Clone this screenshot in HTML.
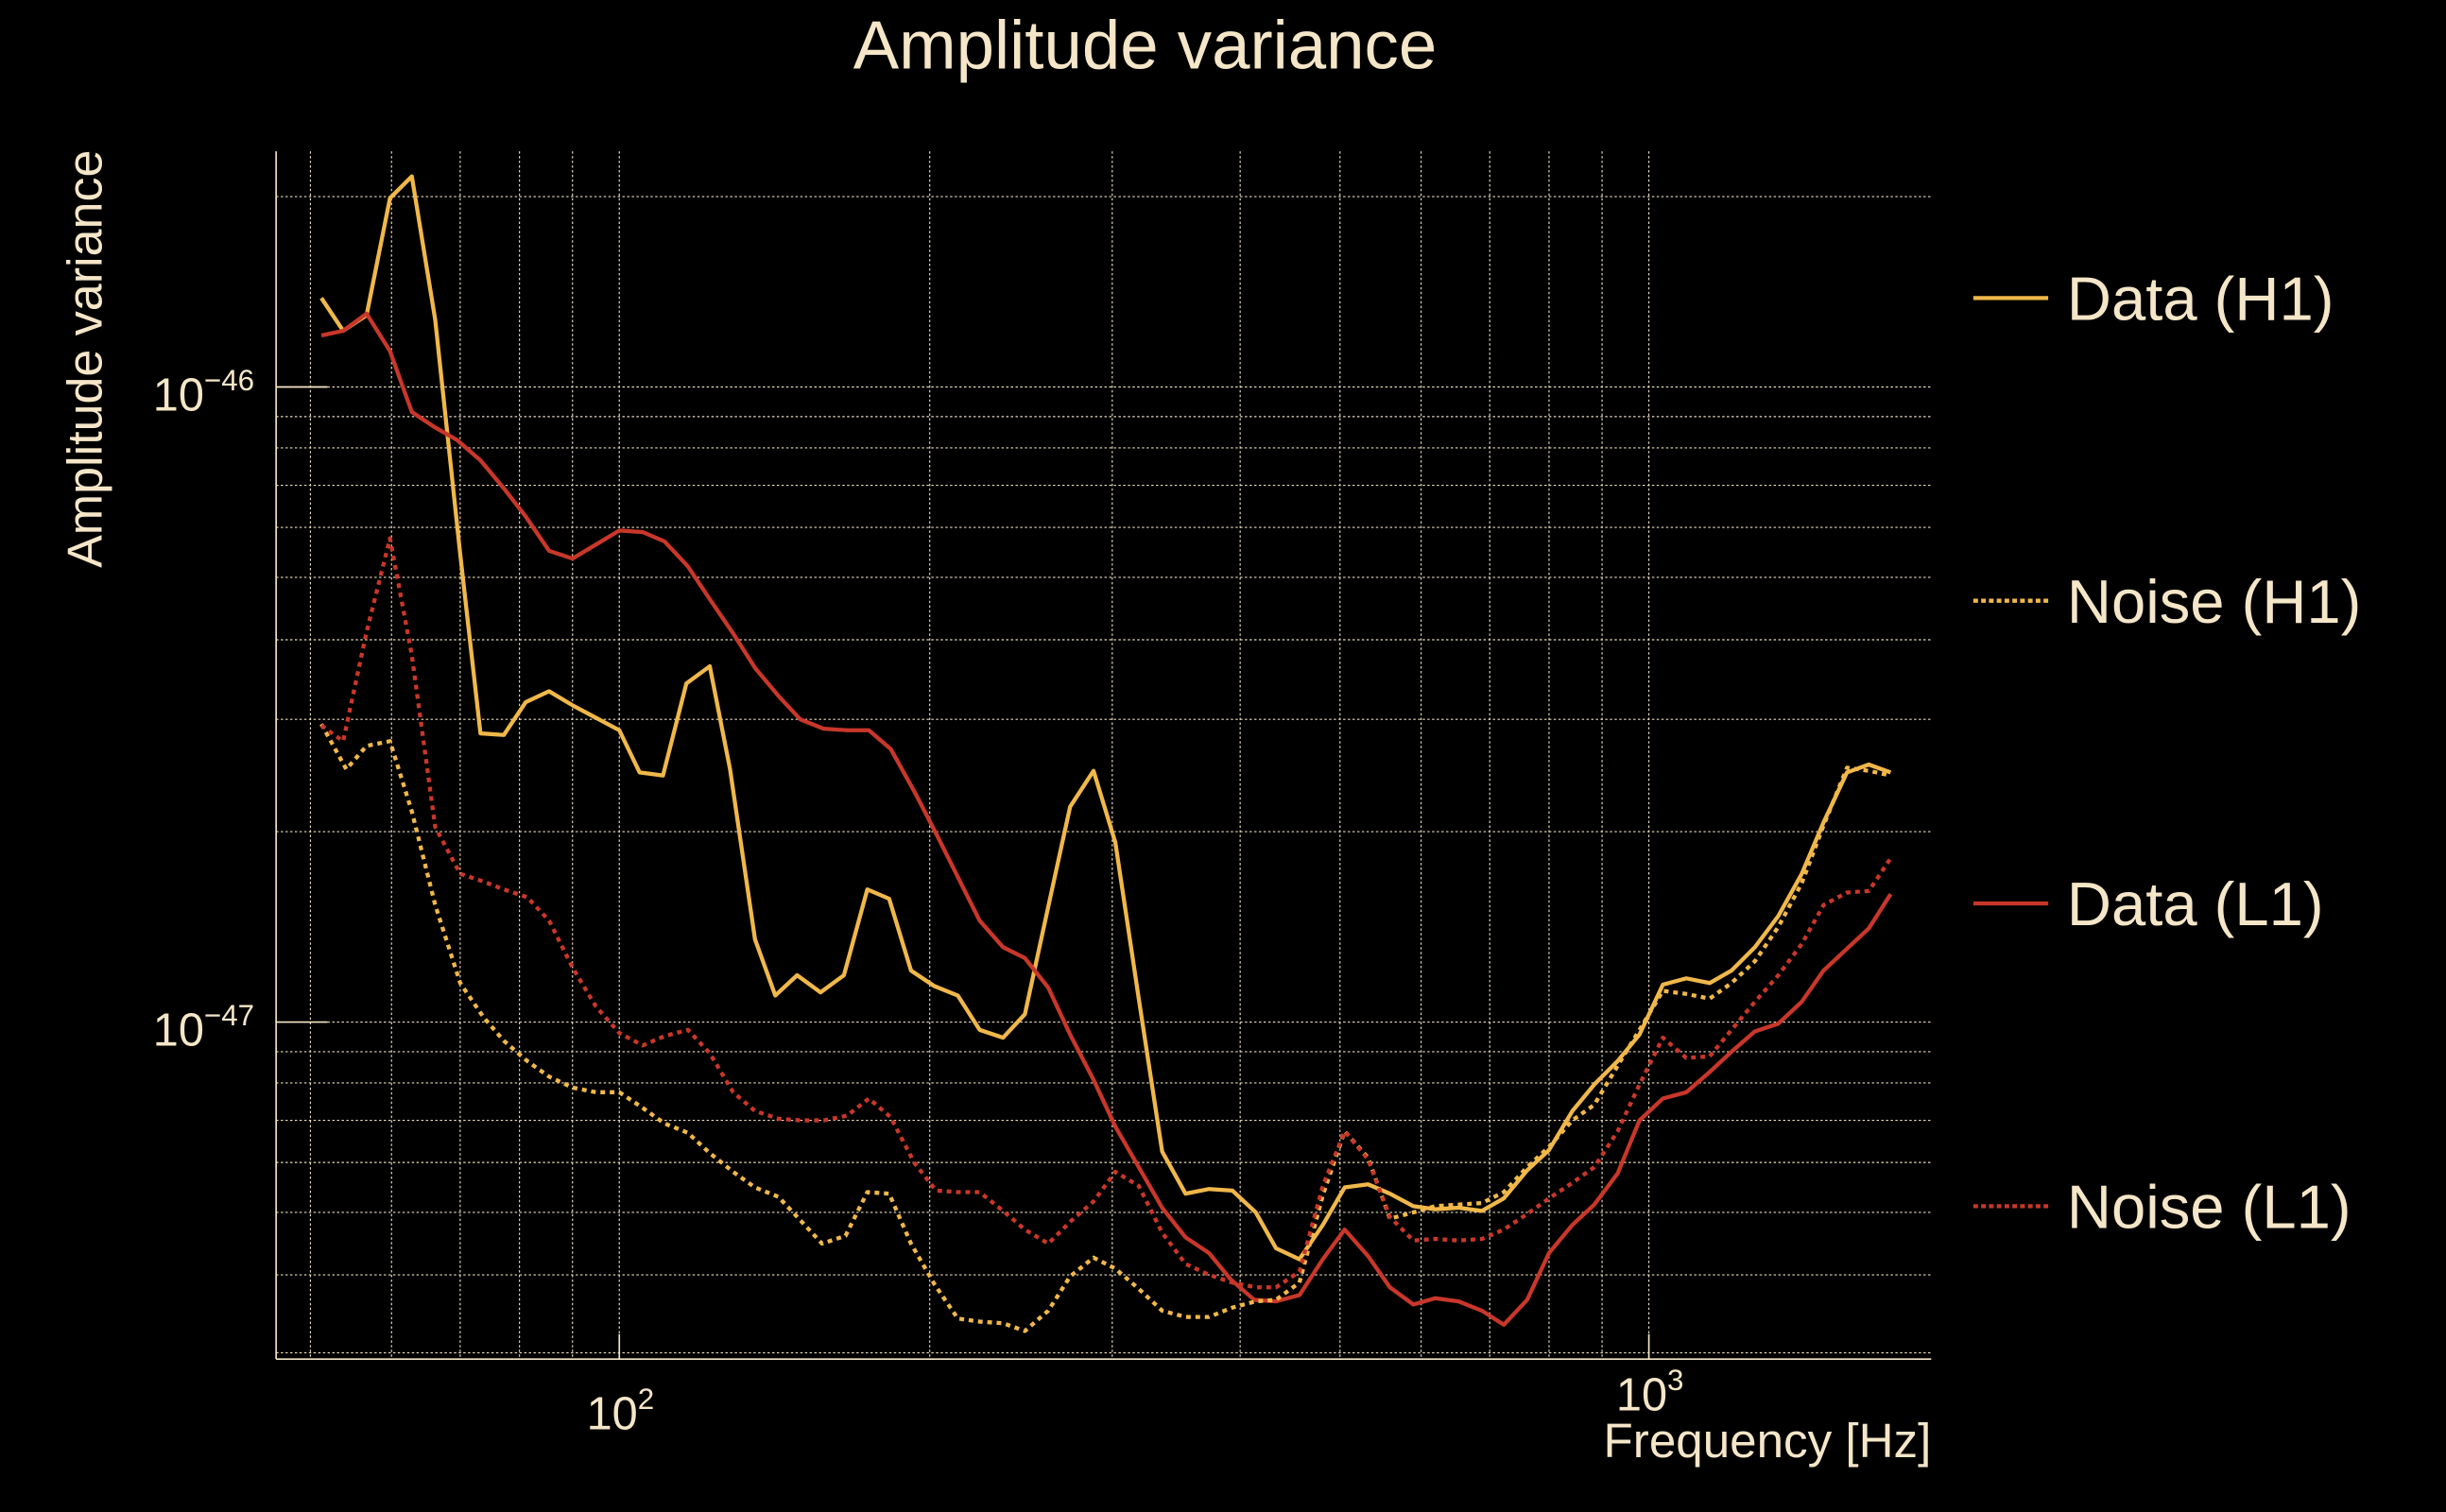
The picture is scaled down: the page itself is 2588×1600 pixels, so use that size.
<!DOCTYPE html>
<html><head><meta charset="utf-8"><style>
html,body{margin:0;padding:0;background:#000;}
svg{display:block;}
text{font-family:"Liberation Sans",sans-serif;fill:#f5e6c8;}
</style></head><body>
<svg width="2588" height="1600" viewBox="0 0 1568 969" preserveAspectRatio="none" xmlns="http://www.w3.org/2000/svg">
<rect width="1568" height="969" fill="#000"/>
<g stroke="#e8dcc0" stroke-width="0.7" stroke-dasharray="1.5 1.5" fill="none">
<line x1="199" y1="97" x2="199" y2="870"/><line x1="251" y1="97" x2="251" y2="870"/><line x1="295" y1="97" x2="295" y2="870"/><line x1="333" y1="97" x2="333" y2="870"/><line x1="367" y1="97" x2="367" y2="870"/><line x1="397" y1="97" x2="397" y2="870"/><line x1="596" y1="97" x2="596" y2="870"/><line x1="713" y1="97" x2="713" y2="870"/><line x1="795" y1="97" x2="795" y2="870"/><line x1="859" y1="97" x2="859" y2="870"/><line x1="911" y1="97" x2="911" y2="870"/><line x1="955" y1="97" x2="955" y2="870"/><line x1="993" y1="97" x2="993" y2="870"/><line x1="1027" y1="97" x2="1027" y2="870"/><line x1="1057" y1="97" x2="1057" y2="870"/>
<line x1="177" y1="126" x2="1238" y2="126"/><line x1="177" y1="248" x2="1238" y2="248"/><line x1="177" y1="267" x2="1238" y2="267"/><line x1="177" y1="287" x2="1238" y2="287"/><line x1="177" y1="311" x2="1238" y2="311"/><line x1="177" y1="338" x2="1238" y2="338"/><line x1="177" y1="370" x2="1238" y2="370"/><line x1="177" y1="410" x2="1238" y2="410"/><line x1="177" y1="461" x2="1238" y2="461"/><line x1="177" y1="533" x2="1238" y2="533"/><line x1="177" y1="655" x2="1238" y2="655"/><line x1="177" y1="674" x2="1238" y2="674"/><line x1="177" y1="694" x2="1238" y2="694"/><line x1="177" y1="718" x2="1238" y2="718"/><line x1="177" y1="745" x2="1238" y2="745"/><line x1="177" y1="777" x2="1238" y2="777"/><line x1="177" y1="817" x2="1238" y2="817"/><line x1="177" y1="867" x2="1238" y2="867"/>
</g>
<g stroke="#f5e6c8" stroke-width="1" fill="none">
<line x1="177" y1="97" x2="177" y2="871"/><line x1="177" y1="871" x2="1238" y2="871"/>
<line x1="177" y1="248" x2="210" y2="248"/><line x1="177" y1="655" x2="210" y2="655"/>
<line x1="397" y1="871" x2="397" y2="855"/><line x1="1057" y1="871" x2="1057" y2="855"/>
</g>
<g fill="none" stroke-width="2.6" stroke-linejoin="round">
<polyline stroke="#f0b84a" points="206,191 220,212 235,202 250,127 264,113 279,205 295,355 308,470 323,471 337,450 352,443 367,452 382,460 397,468 410,495 425,497 440,438 455,427 468,493 484,602 497,638 511,625 526,636 541,625 556,570 570,576 584,622 599,632 614,638 628,660 643,665 657,650 672,581 686,517 701,494 715,540 730,640 745,738 760,765 775,762 790,763 805,777 818,800 833,807 848,785 862,761 877,759 891,765 906,773 920,775 935,774 950,776 964,768 979,750 993,737 1008,712 1022,695 1037,680 1051,663 1066,631 1081,627 1096,630 1110,622 1125,607 1140,587 1155,560 1169,527 1184,495 1198,490 1212,495"/>
<polyline stroke="#c8372a" points="206,215 220,212 235,201 250,225 264,264 279,274 293,282 308,295 323,313 337,331 352,353 367,358 382,349 397,340 412,341 426,347 441,363 455,384 470,406 484,428 499,446 513,461 528,467 543,468 557,468 571,480 586,507 600,534 614,562 628,590 643,607 657,614 672,633 686,663 701,692 715,722 730,748 745,774 760,793 775,803 789,820 804,833 818,834 833,830 848,807 862,788 877,805 891,825 906,836 920,832 935,834 950,840 964,849 979,833 993,803 1008,785 1022,772 1037,752 1051,718 1066,704 1081,700 1096,687 1110,674 1125,661 1140,656 1155,642 1169,622 1184,608 1198,595 1212,573"/>
<polyline stroke="#f0b84a" stroke-dasharray="3 3" points="206,464 222,493 235,478 250,475 264,520 279,580 295,630 310,652 323,667 338,680 352,690 367,697 382,700 397,700 412,710 426,720 441,726 455,739 470,751 484,761 499,767 513,782 527,797 542,792 556,764 570,765 584,797 599,823 614,845 628,847 643,848 657,853 672,840 686,818 701,806 715,813 730,826 745,840 760,844 775,844 790,838 805,834 818,833 833,822 848,766 862,725 877,742 891,781 906,777 920,773 935,772 950,771 964,764 979,748 993,735 1008,718 1022,708 1037,683 1051,660 1066,635 1081,637 1096,640 1110,630 1125,616 1140,594 1155,566 1169,529 1184,492 1198,494 1212,497"/>
<polyline stroke="#c8372a" stroke-dasharray="3 3" points="206,465 220,475 235,405 250,345 264,420 279,530 295,560 310,565 323,570 338,575 352,590 367,620 382,645 397,662 412,670 426,664 441,660 455,675 470,700 484,712 499,717 513,718 528,718 543,715 557,704 571,716 586,745 600,763 614,764 628,764 643,776 657,788 672,797 686,783 701,770 715,751 730,760 745,790 760,810 775,817 790,822 805,825 818,825 833,815 848,760 862,725 877,743 891,780 906,795 920,794 935,795 950,794 964,788 979,778 993,768 1008,758 1022,748 1037,725 1051,695 1066,665 1081,678 1096,677 1110,660 1125,642 1140,625 1155,605 1169,580 1184,572 1198,571 1212,550"/>
</g>
<text x="734" y="44" font-size="44" text-anchor="middle">Amplitude variance</text>
<text transform="translate(65,230) rotate(-90)" font-size="31.5" text-anchor="middle">Amplitude variance</text>
<text x="98" y="263" font-size="29.5">10<tspan font-size="19" dy="-13">−46</tspan></text>
<text x="98" y="670" font-size="29.5">10<tspan font-size="19" dy="-13">−47</tspan></text>
<text x="376" y="916" font-size="29.5">10<tspan font-size="19" dy="-13">2</tspan></text>
<text x="1036" y="904" font-size="29.5">10<tspan font-size="19" dy="-13">3</tspan></text>
<text x="1238" y="934" font-size="31" text-anchor="end">Frequency [Hz]</text>
<g stroke-width="2.6">
<line x1="1265" y1="191" x2="1313" y2="191" stroke="#f0b84a"/>
<line x1="1265" y1="385" x2="1313" y2="385" stroke="#f0b84a" stroke-dasharray="3 2"/>
<line x1="1265" y1="579" x2="1313" y2="579" stroke="#c8372a"/>
<line x1="1265" y1="773" x2="1313" y2="773" stroke="#c8372a" stroke-dasharray="3 2"/>
</g>
<text x="1325" y="205" font-size="39.5">Data (H1)</text>
<text x="1325" y="399" font-size="39.5">Noise (H1)</text>
<text x="1325" y="593" font-size="39.5">Data (L1)</text>
<text x="1325" y="787" font-size="39.5">Noise (L1)</text>
</svg>
</body></html>
